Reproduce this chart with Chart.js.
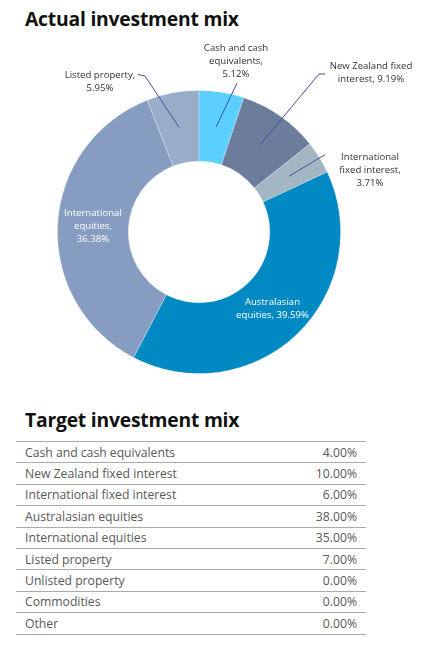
<!DOCTYPE html>
<html>
<head>
<meta charset="utf-8">
<script src="https://cdn.jsdelivr.net/npm/chart.js@4.4.1/dist/chart.umd.min.js"></script>
<style>
  html, body { margin: 0; padding: 0; background: #fff; }
  body { width: 421px; height: 646px; position: relative; overflow: hidden; font-family: "Open Sans", sans-serif; }
  h2 { position: absolute; left: 25px; margin: 0; font-size: 19.3px; font-weight: 700; color: #111; letter-spacing: -0.2px; line-height: 1; }
  #chartBox { position: absolute; left: 0; top: 0; width: 421px; height: 400px; }
  table { position: absolute; left: 16px; top: 441px; width: 350px; border-collapse: collapse; font-size: 12.2px; color: #585858; }
  td { height: 20.4px; padding: 0 9px; border-top: 1.2px solid #aaa; border-bottom: 1.2px solid #aaa; }
  td.v { text-align: right; }
</style>
</head>
<body>
<h2 style="top:9px">Actual investment mix</h2>
<div id="chartBox"><canvas id="mix"></canvas></div>
<h2 style="top:410px">Target investment mix</h2>
<table id="target"></table>

<script>
const categories = [
  "Cash and cash equivalents",
  "New Zealand fixed interest",
  "International fixed interest",
  "Australasian equities",
  "International equities",
  "Listed property"
];
const actualValues = [5.12, 9.19, 3.71, 39.59, 36.38, 5.95];
const sliceColors = ["#5bd0ff", "#6b7d9b", "#a3b6c3", "#0089c2", "#869dc1", "#99acc8"];

// label text as it is broken in the picture
const labelLines = [
  ["Cash and cash", "equivalents,", "5.12%"],
  ["New Zealand fixed", "interest, 9.19%"],
  ["International", "fixed interest,", "3.71%"],
  ["Australasian", "equities, 39.59%"],
  ["International", "equities,", "36.38%"],
  ["Listed property,", "5.95%"]
];

const targetCategories = [
  "Cash and cash equivalents", "New Zealand fixed interest", "International fixed interest",
  "Australasian equities", "International equities", "Listed property",
  "Unlisted property", "Commodities", "Other"
];
const targetValues = [4.00, 10.00, 6.00, 38.00, 35.00, 7.00, 0.00, 0.00, 0.00];

// callout placement, relative to the doughnut centre (null = label inside slice)
const callouts = [
  { text: [37, -184], line: [[38, -149]] },
  { text: [172, -166], line: [[126, -158], [120, -158]] },
  { text: [171, -75], line: [[126, -77], [122, -75]] },
  null,
  null,
  { text: [-99, -157], line: [[-61, -157.5], [-54, -156]] }
];

const calloutPlugin = {
  id: "callouts",
  afterDatasetsDraw(chart) {
    const ctx = chart.ctx;
    const arcs = chart.getDatasetMeta(0).data;
    ctx.save();
    ctx.font = '9.6px "Open Sans", sans-serif';
    ctx.textAlign = "center";
    ctx.textBaseline = "middle";
    arcs.forEach((arc, i) => {
      const { x: cx, y: cy } = arc;
      const p = arc.getCenterPoint();
      const lines = labelLines[i];
      const lh = 13.3;
      const c = callouts[i];
      if (!c) {
        ctx.fillStyle = "#ffffff";
        const y0 = p.y - (lines.length - 1) * lh / 2;
        lines.forEach((t, k) => ctx.fillText(t, p.x, y0 + k * lh));
        return;
      }
      ctx.strokeStyle = "#3a54a0";
      ctx.lineWidth = 1;
      ctx.beginPath();
      ctx.moveTo(cx + c.line[0][0], cy + c.line[0][1]);
      c.line.slice(1).forEach(pt => ctx.lineTo(cx + pt[0], cy + pt[1]));
      ctx.lineTo(p.x, p.y);
      ctx.stroke();
      ctx.fillStyle = "#333";
      const tx = cx + c.text[0];
      const y0 = cy + c.text[1];
      lines.forEach((t, k) => ctx.fillText(t, tx, y0 + k * lh));
    });
    ctx.restore();
  }
};

new Chart(document.getElementById("mix"), {
  type: "doughnut",
  data: {
    labels: categories,
    datasets: [{
      data: actualValues,
      backgroundColor: sliceColors,
      borderColor: "rgba(255,255,255,0.35)",
      borderWidth: 0.8
    }]
  },
  options: {
    responsive: true,
    maintainAspectRatio: false,
    animation: false,
    cutout: "50%",
    layout: { padding: { left: 57, right: 80, top: 90, bottom: 26 } },
    plugins: {
      legend: { display: false },
      tooltip: { enabled: false }
    }
  },
  plugins: [calloutPlugin]
});

const table = document.getElementById("target");
targetCategories.forEach((name, i) => {
  const tr = document.createElement("tr");
  tr.innerHTML = `<td>${name}</td><td class="v">${targetValues[i].toFixed(2)}%</td>`;
  table.appendChild(tr);
});
</script>
</body>
</html>
